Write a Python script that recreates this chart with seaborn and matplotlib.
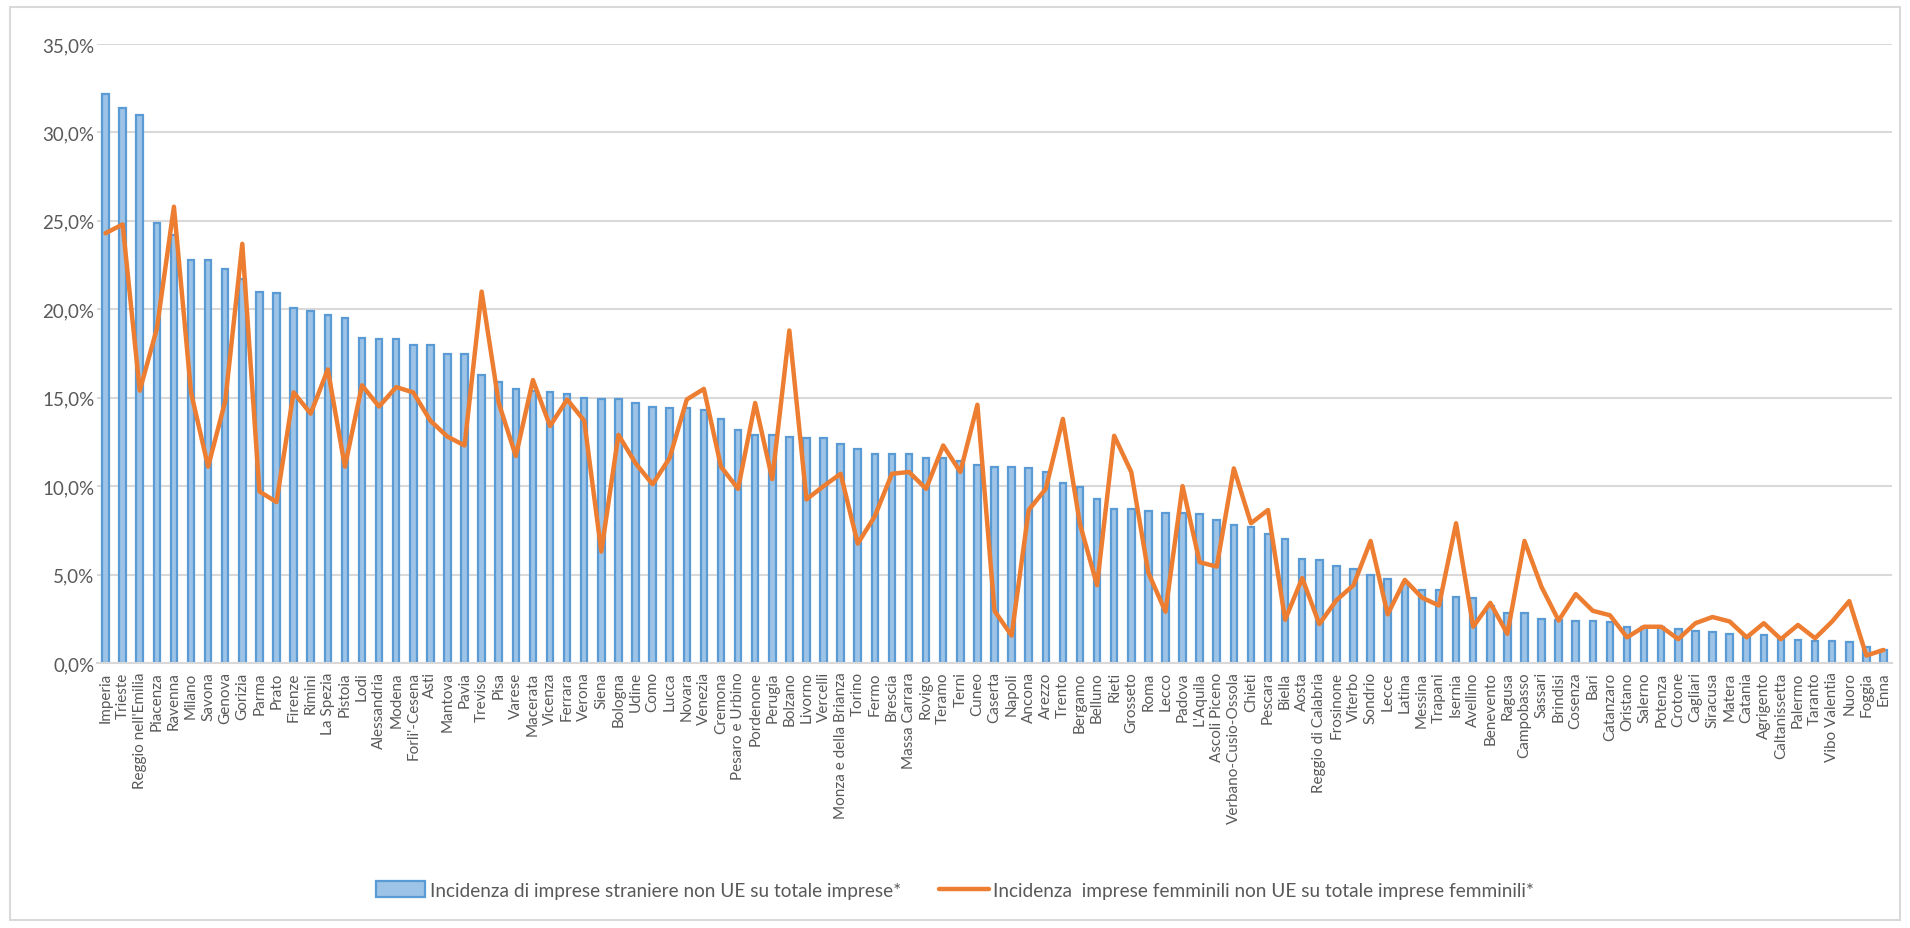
import numpy as np
import pandas as pd
import matplotlib
matplotlib.use("Agg")
from matplotlib import pyplot as plt
from matplotlib.patches import Rectangle, Patch
from matplotlib.lines import Line2D
from matplotlib.ticker import FuncFormatter, MultipleLocator
import seaborn as sns

provinces = [
    "Imperia", "Trieste", "Reggio nell'Emilia", "Piacenza", "Ravenna", "Milano",
    "Savona", "Genova", "Gorizia", "Parma", "Prato", "Firenze", "Rimini",
    "La Spezia", "Pistoia", "Lodi", "Alessandria", "Modena", "Forli'-Cesena",
    "Asti", "Mantova", "Pavia", "Treviso", "Pisa", "Varese", "Macerata",
    "Vicenza", "Ferrara", "Verona", "Siena", "Bologna", "Udine", "Como", "Lucca",
    "Novara", "Venezia", "Cremona", "Pesaro e Urbino", "Pordenone", "Perugia",
    "Bolzano", "Livorno", "Vercelli", "Monza e della Brianza", "Torino", "Fermo",
    "Brescia", "Massa Carrara", "Rovigo", "Teramo", "Terni", "Cuneo", "Caserta",
    "Napoli", "Ancona", "Arezzo", "Trento", "Bergamo", "Belluno", "Rieti",
    "Grosseto", "Roma", "Lecco", "Padova", "L'Aquila", "Ascoli Piceno",
    "Verbano-Cusio-Ossola", "Chieti", "Pescara", "Biella", "Aosta",
    "Reggio di Calabria", "Frosinone", "Viterbo", "Sondrio", "Lecce", "Latina",
    "Messina", "Trapani", "Isernia", "Avellino", "Benevento", "Ragusa",
    "Campobasso", "Sassari", "Brindisi", "Cosenza", "Bari", "Catanzaro",
    "Oristano", "Salerno", "Potenza", "Crotone", "Cagliari", "Siracusa",
    "Matera", "Catania", "Agrigento", "Caltanissetta", "Palermo", "Taranto",
    "Vibo Valentia", "Nuoro", "Foggia", "Enna",
]

# incidenza imprese straniere non UE su totale imprese (%)
foreign_share = [
    32.2, 31.4, 31.0, 24.9, 24.2, 22.8, 22.8, 22.3, 21.7, 21.0, 20.9, 20.1, 19.9,
    19.7, 19.5, 18.4, 18.3, 18.3, 18.0, 18.0, 17.5, 17.5, 16.3, 15.9, 15.5, 15.4,
    15.3, 15.2, 15.0, 14.9, 14.9, 14.7, 14.5, 14.4, 14.4, 14.3, 13.8, 13.2, 12.9,
    12.9, 12.8, 12.7, 12.7, 12.4, 12.1, 11.8, 11.8, 11.8, 11.6, 11.6, 11.4, 11.2,
    11.1, 11.1, 11.0, 10.8, 10.2, 9.95, 9.3, 8.7, 8.7, 8.6, 8.5, 8.5, 8.4, 8.1,
    7.8, 7.7, 7.3, 7.0, 5.9, 5.8, 5.5, 5.3, 5.0, 4.75, 4.5, 4.1, 4.1, 3.75, 3.7,
    3.2, 2.85, 2.85, 2.5, 2.45, 2.4, 2.4, 2.3, 2.06, 2.06, 2.06, 1.9, 1.8, 1.75,
    1.65, 1.52, 1.57, 1.42, 1.32, 1.27, 1.23, 1.18, 0.93, 0.74,
]

# incidenza imprese femminili non UE su totale imprese femminili (%)
female_share = [
    24.3, 24.8, 15.4, 18.9, 25.8, 15.3, 11.1, 14.8, 23.7, 9.7, 9.1, 15.3, 14.1,
    16.6, 11.1, 15.7, 14.5, 15.6, 15.3, 13.7, 12.8, 12.3, 21.0, 14.7, 11.7, 16.0,
    13.4, 14.9, 13.7, 6.3, 12.9, 11.3, 10.1, 11.6, 14.9, 15.5, 11.1, 9.85, 14.7,
    10.4, 18.8, 9.25, 10.0, 10.7, 6.75, 8.3, 10.7, 10.8, 9.85, 12.3, 10.8, 14.6,
    2.95, 1.55, 8.65, 9.85, 13.8, 7.85, 4.4, 12.85, 10.8, 5.1, 2.9, 10.0, 5.7,
    5.45, 11.0, 7.9, 8.65, 2.45, 4.8, 2.2, 3.55, 4.4, 6.9, 2.75, 4.7, 3.7, 3.25,
    7.9, 2.05, 3.4, 1.65, 6.9, 4.3, 2.4, 3.9, 2.95, 2.7, 1.45, 2.05, 2.05, 1.35,
    2.25, 2.6, 2.35, 1.45, 2.25, 1.35, 2.15, 1.4, 2.35, 3.5, 0.42, 0.74,
]

bar_label = "Incidenza di imprese straniere non UE su totale imprese*"
line_label = "Incidenza  imprese femminili non UE su totale imprese femminili*"

df = pd.DataFrame({"provincia": provinces, "stranieri": foreign_share,
                   "femminili": female_share})
df["pos"] = np.arange(len(df))

sns.set_style("white")
plt.rcParams["font.family"] = ["Lato", "DejaVu Sans"]

grey_txt = "#595959"
grid_c = "#d9d9d9"
bar_face = "#9dc3e6"
bar_edge = "#5b9bd5"
orange = "#ed7d31"

fig = plt.figure(figsize=(19.1, 9.29), dpi=100)
ax = fig.add_axes([97 / 1910, 1 - 664 / 929, (1892 - 97) / 1910, (664 - 45) / 929])

sns.barplot(data=df, x="provincia", y="stranieri", ax=ax, color=bar_face,
            saturation=1, width=0.38, edgecolor=bar_edge, linewidth=1.6, zorder=2)
sns.lineplot(data=df, x="pos", y="femminili", ax=ax, color=orange, linewidth=3.2,
             sort=False, zorder=3)

ax.set_xlim(-0.5, len(df) - 0.5)
ax.set_ylim(0, 35)
ax.yaxis.set_major_locator(MultipleLocator(5))
ax.yaxis.set_major_formatter(FuncFormatter(lambda v, p: f"{v:.1f}%".replace(".", ",")))
ax.grid(axis="y", color=grid_c, linewidth=1.5, zorder=0)
ax.set_axisbelow(True)
for s in ["top", "right", "left"]:
    ax.spines[s].set_visible(False)
ax.spines["bottom"].set_color(grid_c)
ax.spines["bottom"].set_linewidth(1.5)
ax.set_xlabel("")
ax.set_ylabel("")
ax.set_xticks(df["pos"])
ax.set_xticklabels(df["provincia"], rotation=90, fontsize=11, color=grey_txt)
ax.tick_params(axis="x", length=0, pad=6)
ax.tick_params(axis="y", length=0, labelsize=13.5, labelcolor=grey_txt, pad=2)

handles = [
    Patch(facecolor=bar_face, edgecolor=bar_edge, linewidth=1.6),
    Line2D([0], [0], color=orange, linewidth=3.2),
]
fig.legend(handles, [bar_label, line_label], loc="center", ncol=2,
           bbox_to_anchor=(0.5, 1 - 891 / 929), frameon=False, fontsize=13.7,
           labelcolor=grey_txt, handlelength=2.6, handleheight=0.85,
           handletextpad=0.25, columnspacing=2.0)

fig.add_artist(Rectangle((10 / 1910, 8 / 929), 1 - 20 / 1910, 1 - 16 / 929,
                         transform=fig.transFigure, fill=False,
                         edgecolor=grid_c, linewidth=1.5))

fig.savefig("out.png", dpi=100)
